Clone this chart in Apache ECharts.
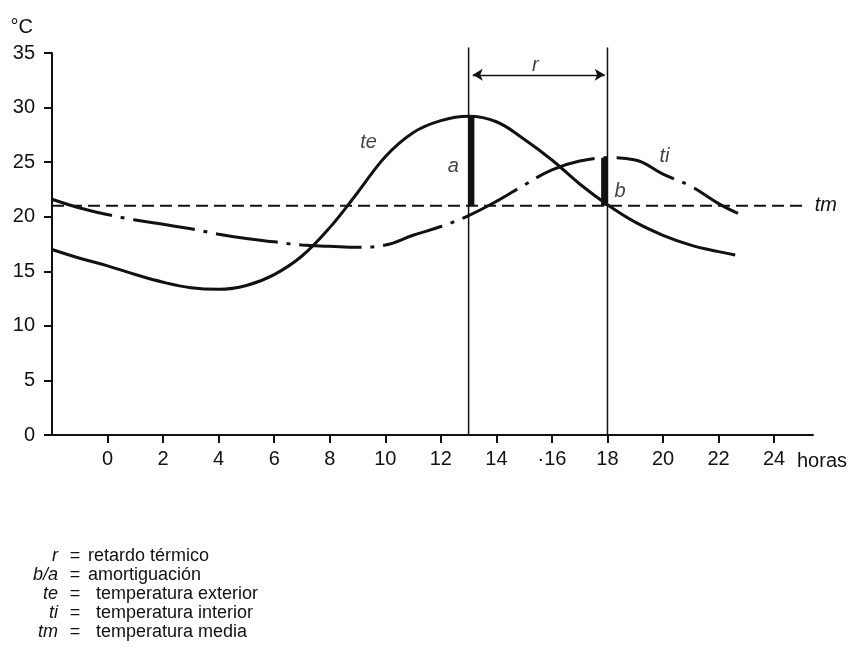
<!DOCTYPE html>
<html>
<head>
<meta charset="utf-8">
<script src="https://cdn.jsdelivr.net/npm/echarts@6/dist/echarts.min.js"></script>
<style>
  html, body { margin: 0; padding: 0; background: #fff; }
  #chart { width: 857px; height: 648px; }
</style>
</head>
<body>
<div id="chart"></div>
<script>
// hours of the day and temperatures
const teHours = [-2, -1, 0, 1, 2, 3, 4, 5, 6, 7, 8, 9, 10, 11, 12, 13, 14, 15, 16, 17, 18, 19, 20, 21, 22, 22.6];
const teTemps = [17.0, 16.2, 15.5, 14.7, 14.0, 13.5, 13.35, 13.7, 14.7, 16.4, 19.0, 22.2, 25.5, 27.7, 28.8, 29.2, 28.7, 27.1, 25.2, 23.0, 21.1, 19.5, 18.3, 17.4, 16.8, 16.5];
const tiHours = [-2, -1, 0, 1, 2, 3, 4, 5, 6, 7, 8, 9, 10, 11, 12, 13, 14, 15, 16, 17, 18, 19, 20, 21, 22, 22.7];
const tiTemps = [21.6, 20.8, 20.2, 19.7, 19.3, 18.9, 18.4, 18.0, 17.7, 17.4, 17.3, 17.2, 17.4, 18.3, 19.1, 20.1, 21.4, 22.9, 24.3, 25.1, 25.4, 25.2, 23.9, 22.8, 21.2, 20.3];
const tmHours = [-2, 25.1];
const tmTemp = 21;

// peak times (vertical lines) and the a / b amplitude bars
const markerHours = [13, 18];
const markerTop = 35.5;
const ampHours = [13.1, 17.88];
const ampTops = [29.2, 25.4];
const lagTemp = 33;

// annotations
const noteTexts = ['te', 'a', 'ti', 'b', 'r'];
const noteHours = [9.4, 12.45, 20.05, 18.45, 15.4];
const noteTemps = [26.8, 24.6, 25.5, 22.3, 33.9];

// axis ticks
const xTickValues = [0, 2, 4, 6, 8, 10, 12, 14, 16, 18, 20, 22, 24];
const xTickLabels = ['0', '2', '4', '6', '8', '10', '12', '14', '·16', '18', '20', '22', '24'];

// caption under the chart
const keySymbols = ['r', 'b/a', 'te', 'ti', 'tm'];
const keyTexts = ['retardo térmico', 'amortiguación', 'temperatura exterior', 'temperatura interior', 'temperatura media'];

const font = 'Liberation Sans, Arial, Helvetica, sans-serif';
const ink = '#111';

const zip = (xs, ys) => xs.map((x, i) => [x, ys[i]]);

const verticals = markerHours.map((h) => ({
  type: 'line',
  data: [[h, 0], [h, markerTop]],
  symbol: 'none',
  clip: false,
  lineStyle: { color: ink, width: 1.5 },
  z: 3,
}));

const ampBars = ampHours.map((h, i) => ({
  type: 'line',
  data: [[h, tmTemp], [h, ampTops[i]]],
  symbol: 'none',
  lineStyle: { color: ink, width: 6, cap: 'butt' },
  z: 4,
}));

const keyGraphics = [];
keySymbols.forEach((s, i) => {
  const y = 556 + i * 19;
  keyGraphics.push({
    type: 'text', x: 58, y,
    style: { text: s, font: 'italic 18px ' + font, fill: ink, align: 'right', verticalAlign: 'middle' },
  });
  keyGraphics.push({
    type: 'text', x: 75, y,
    style: { text: '=', font: '18px ' + font, fill: ink, align: 'center', verticalAlign: 'middle' },
  });
  keyGraphics.push({
    type: 'text', x: i < 2 ? 88 : 96, y,
    style: { text: keyTexts[i], font: '18px ' + font, fill: ink, align: 'left', verticalAlign: 'middle' },
  });
});

const option = {
  animation: false,
  backgroundColor: '#fff',
  grid: { left: 52, right: 44, top: 53, bottom: 213, containLabel: false },
  xAxis: {
    type: 'value',
    min: -2,
    max: 25.4,
    interval: 2,
    name: 'horas',
    nameLocation: 'end',
    nameGap: -16,
    nameTextStyle: { fontFamily: font, fontSize: 20, color: ink, align: 'left', verticalAlign: 'top', padding: [16, 0, 0, 0] },
    axisLine: { onZero: false, lineStyle: { color: ink, width: 2 } },
    axisTick: { show: true, length: 8, customValues: xTickValues, lineStyle: { color: ink, width: 2 } },
    axisLabel: {
      customValues: xTickValues,
      margin: 14,
      fontFamily: font,
      fontSize: 20,
      color: ink,
      formatter: (v) => {
        const i = xTickValues.indexOf(v);
        return i < 0 ? '' : xTickLabels[i];
      },
    },
    splitLine: { show: false },
  },
  yAxis: {
    type: 'value',
    min: 0,
    max: 35,
    interval: 5,
    name: '°C',
    nameLocation: 'end',
    nameGap: 26,
    nameTextStyle: { fontFamily: font, fontSize: 20, color: ink, align: 'right', verticalAlign: 'middle', padding: [0, 19, 0, 0] },
    axisLine: { onZero: false, lineStyle: { color: ink, width: 2 } },
    axisTick: { show: true, length: 8, lineStyle: { color: ink, width: 2 } },
    axisLabel: { margin: 17, fontFamily: font, fontSize: 20, color: ink },
    splitLine: { show: false },
  },
  series: [
    {
      name: 'te',
      type: 'line',
      data: zip(teHours, teTemps),
      smooth: 0.4,
      symbol: 'none',
      lineStyle: { color: ink, width: 3 },
      z: 5,
    },
    {
      name: 'ti',
      type: 'line',
      data: zip(tiHours, tiTemps),
      smooth: 0.4,
      symbol: 'none',
      lineStyle: { color: ink, width: 3, type: [62, 9, 4, 9] },
      z: 5,
    },
    {
      name: 'tm',
      type: 'line',
      data: tmHours.map((h) => [h, tmTemp]),
      symbol: 'none',
      lineStyle: { color: ink, width: 2, type: [12, 6] },
      endLabel: { show: true, formatter: 'tm', distance: 10, fontFamily: font, fontStyle: 'italic', fontSize: 20, color: ink },
      markLine: {
        silent: true,
        symbol: ['arrow', 'arrow'],
        symbolSize: [9, 10],
        label: { show: false },
        lineStyle: { color: ink, width: 1.3, type: 'solid' },
        data: [[{ coord: [markerHours[0] + 0.15, lagTemp] }, { coord: [markerHours[1] - 0.1, lagTemp] }]],
      },
      z: 4,
    },
    ...verticals,
    ...ampBars,
    {
      type: 'scatter',
      data: noteHours.map((h, i) => [h, noteTemps[i], noteTexts[i]]),
      symbolSize: 0,
      clip: false,
      label: {
        show: true,
        position: 'inside',
        formatter: (p) => p.data[2],
        fontFamily: font,
        fontStyle: 'italic',
        fontSize: 20,
        color: ink,
      },
      z: 6,
    },
  ],
  graphic: keyGraphics,
};

const chart = echarts.init(document.getElementById('chart'), null, { renderer: 'canvas' });
chart.setOption(option);
</script>
</body>
</html>
